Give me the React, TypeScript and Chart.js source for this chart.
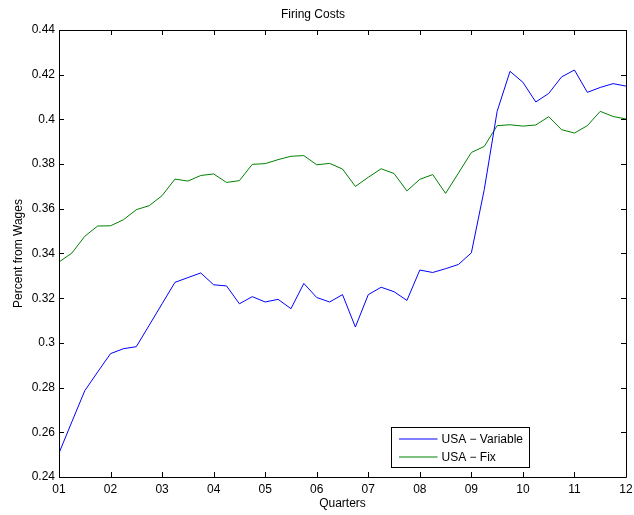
import React, { useEffect, useRef } from "react";
import { Chart, registerables } from "chart.js";

Chart.register(...registerables);

const xTickLabels = ["01", "02", "03", "04", "05", "06", "07", "08", "09", "10", "11", "12"];

const usaVariable = [
  0.2507, 0.2647, 0.2786, 0.2870, 0.2952, 0.2974, 0.2983, 0.3079, 0.3175, 0.3271, 0.3292, 0.3313,
  0.3260, 0.3255, 0.3175, 0.3207, 0.3183, 0.3195, 0.3153, 0.3266, 0.3203, 0.3183, 0.3216, 0.3071,
  0.3216, 0.3249, 0.3229, 0.3190, 0.3326, 0.3315, 0.3332, 0.3351, 0.3403, 0.3686, 0.4036, 0.4215,
  0.4166, 0.4078, 0.4116, 0.4190, 0.4221, 0.4121, 0.4143, 0.4160, 0.4149,
];

const usaFix = [
  0.3362, 0.3402, 0.3477, 0.3523, 0.3524, 0.3551, 0.3596, 0.3614, 0.3659, 0.3733, 0.3724, 0.3749,
  0.3756, 0.3718, 0.3726, 0.3799, 0.3802, 0.3820, 0.3835, 0.3838, 0.3797, 0.3803, 0.3778, 0.3700,
  0.3741, 0.3779, 0.3758, 0.3680, 0.3732, 0.3753, 0.3669, 0.3760, 0.3852, 0.3879, 0.3972, 0.3976,
  0.3970, 0.3975, 0.4012, 0.3954, 0.3939, 0.3972, 0.4036, 0.4013, 0.4002,
];

const seriesLabels = ["USA \u2212 Variable", "USA \u2212 Fix"];
const seriesColors = ["#0000ff", "#008000"];

const FONT = "'Liberation Sans', Arial, Helvetica, sans-serif";

const boxPlugin = {
  id: "matlabBox",
  afterDraw(chart: any) {
    const { ctx, chartArea } = chart;
    const { left, right, top, bottom } = chartArea;
    const xs = chart.scales.x;
    const ys = chart.scales.y;
    const tl = 5;
    ctx.save();
    ctx.strokeStyle = "#000";
    ctx.lineWidth = 1;
    ctx.beginPath();
    ctx.rect(Math.round(left) + 0.5, Math.round(top) + 0.5, Math.round(right - left), Math.round(bottom - top));
    ctx.stroke();
    ctx.beginPath();
    xs.ticks.forEach((t: any) => {
      const px = Math.round(xs.getPixelForValue(t.value)) + 0.5;
      ctx.moveTo(px, bottom);
      ctx.lineTo(px, bottom - tl);
      ctx.moveTo(px, top);
      ctx.lineTo(px, top + tl);
    });
    ys.ticks.forEach((t: any) => {
      const py = Math.round(ys.getPixelForValue(t.value)) + 0.5;
      ctx.moveTo(left, py);
      ctx.lineTo(left + tl, py);
      ctx.moveTo(right, py);
      ctx.lineTo(right - tl, py);
    });
    ctx.stroke();

    // legend
    const bx = Math.round(left + 331.5) + 0.5;
    const by = Math.round(bottom - 50) + 0.5;
    const bw = 138;
    const bh = 40;
    ctx.fillStyle = "#fff";
    ctx.fillRect(bx, by, bw, bh);
    ctx.strokeStyle = "#000";
    ctx.strokeRect(bx, by, bw, bh);
    ctx.font = `12px ${FONT}`;
    ctx.textBaseline = "middle";
    ctx.textAlign = "left";
    chart.data.datasets.forEach((ds: any, i: number) => {
      const y = by + 11.5 + i * 18;
      ctx.strokeStyle = ds.borderColor;
      ctx.beginPath();
      ctx.moveTo(bx + 7.5, y);
      ctx.lineTo(bx + 46, y);
      ctx.stroke();
      ctx.fillStyle = "#000";
      ctx.fillText(ds.label, bx + 50, y + 0.5);
    });
    ctx.restore();
  },
};

export default function App() {
  const ref = useRef<HTMLCanvasElement | null>(null);
  useEffect(() => {
    if (!ref.current) return;
    const chart = new Chart(ref.current, {
      type: "line",
      data: {
        datasets: [usaVariable, usaFix].map((vals, k) => ({
          label: seriesLabels[k],
          data: vals.map((v, i) => ({ x: i, y: v })),
          borderColor: seriesColors[k],
          backgroundColor: seriesColors[k],
          borderWidth: 1,
          pointRadius: 0,
          tension: 0,
          fill: false,
        })),
      },
      options: {
        responsive: false,
        animation: false,
        layout: { padding: { left: 0, right: 8, top: 0, bottom: 0 } },
        plugins: {
          legend: { display: false },
          tooltip: { enabled: false },
          title: {
            display: true,
            text: "Firing Costs",
            color: "#000",
            font: { family: FONT, size: 12, weight: "normal" },
            padding: { top: 7.5, bottom: 8.1 },
          },
        },
        scales: {
          x: {
            type: "linear",
            min: 0,
            max: 44,
            grid: { display: false, drawTicks: false },
            border: { display: false },
            ticks: {
              stepSize: 4,
              padding: 5,
              color: "#000",
              font: { family: FONT, size: 12 },
              maxRotation: 0,
              autoSkip: false,
              callback: (v: any) => xTickLabels[Math.round(Number(v) / 4)],
            },
            title: {
              display: true,
              text: "Quarters",
              color: "#000",
              font: { family: FONT, size: 12 },
              padding: { top: 0, bottom: 4.3 },
            },
            afterFit: (s: any) => {
              s.height = 38;
              s.paddingLeft = 0;
              s.paddingRight = 0;
            },
          },
          y: {
            min: 0.24,
            max: 0.44,
            grid: { display: false, drawTicks: false },
            border: { display: false },
            ticks: {
              stepSize: 0.02,
              padding: 4,
              color: "#000",
              font: { family: FONT, size: 12 },
              callback: (v: any) => String(parseFloat(Number(v).toFixed(2))),
            },
            title: {
              display: true,
              text: "Percent from Wages",
              color: "#000",
              font: { family: FONT, size: 12 },
              padding: { top: 11.3, bottom: 0 },
            },
            afterFit: (s: any) => {
              s.width = 59;
              s.paddingTop = 0;
              s.paddingBottom = 0;
            },
          },
        },
      },
      plugins: [boxPlugin],
    });
    return () => chart.destroy();
  }, []);
  return (
    <div style={{ position: "absolute", left: 0, top: 0, width: 634, height: 515, background: "#fff" }}>
      <canvas ref={ref} width={634} height={515} style={{ display: "block" }} />
    </div>
  );
}
